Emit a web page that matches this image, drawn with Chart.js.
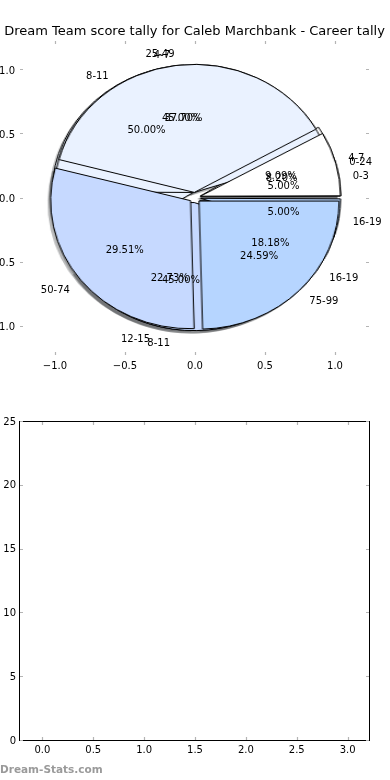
<!DOCTYPE html>
<html>
<head>
<meta charset="utf-8">
<script src="https://cdn.jsdelivr.net/npm/chart.js@4.4.1/dist/chart.umd.min.js"></script>
<style>
html,body{margin:0;padding:0;background:#ffffff;}
#wrap{position:relative;width:390px;height:780px;overflow:hidden;background:#fff;}
#wrap canvas{position:absolute;display:block;}
#axTop{left:0;top:0;}
#axBottom{left:0;top:390px;}
#wm{position:absolute;left:0;top:763px;font:bold 10.5px "DejaVu Sans",sans-serif;color:#9a9a9a;white-space:nowrap;}
</style>
</head>
<body>
<div id="wrap">
<canvas id="sh1" width="320" height="319"></canvas>
<canvas id="sh3" width="320" height="319"></canvas>
<canvas id="sh2" width="320" height="319"></canvas>
<canvas id="p1" width="320" height="319"></canvas>
<canvas id="p3" width="320" height="319"></canvas>
<canvas id="p2" width="320" height="319"></canvas>
<canvas id="axTop" width="390" height="390"></canvas>
<canvas id="axBottom" width="390" height="390"></canvas>
<div id="wm">Dream-Stats.com</div>
</div>
<script>
// ---------------- data ----------------
const titleText = 'Dream Team score tally for Caleb Marchbank - Career tally';

const pie1Labels = ['4-7', '8-11', '12-15', '16-19'];
const pie1Values = [2, 11, 5, 4];

const pie2Labels = ['0-24', '25-49', '50-74', '75-99'];
const pie2Values = [5, 23, 18, 15];

const pie3Labels = ['0-3', '4-7', '8-11', '16-19'];
const pie3Values = [1, 9, 9, 1];

const sliceColors = ['#ffffff', '#eaf2ff', '#c6d9ff', '#b6d5ff'];
const explodeFrac = 0.04;

const pieTicks = [-1.0, -0.5, 0.0, 0.5, 1.0];

const barPositions = [0, 1, 2, 3];
const barValues = [0, 0, 0, 0];
const bottomXTicks = [0.0, 0.5, 1.0, 1.5, 2.0, 2.5, 3.0];
const bottomYTicks = [0, 5, 10, 15, 20, 25];

// ---------------- setup ----------------
Chart.defaults.font.family = '"DejaVu Sans", sans-serif';
Chart.defaults.font.size = 10;
Chart.defaults.color = '#000';

const pieDrawOrder = [
  {canvas: 'p1', shadow: 'sh1', labels: pie1Labels, values: pie1Values},
  {canvas: 'p3', shadow: 'sh3', labels: pie3Labels, values: pie3Values},
  {canvas: 'p2', shadow: 'sh2', labels: pie2Labels, values: pie2Values}
];

const insideTicks = {
  id: 'insideTicks',
  afterDraw(chart, args, opts) {
    const {ctx, chartArea: a, scales: {x, y}} = chart;
    ctx.save();
    if (opts.frame) {
      ctx.strokeStyle = '#000';
      ctx.lineWidth = 1;
      ctx.strokeRect(Math.round(a.left) - 0.5, Math.round(a.top) + 0.5, a.right - a.left, a.bottom - a.top);
    }
    ctx.strokeStyle = opts.color;
    ctx.lineWidth = 1.2;
    const L = opts.len;
    x.ticks.forEach(t => {
      const p = Math.round(x.getPixelForValue(t.value)) + 0.5;
      ctx.beginPath();
      ctx.moveTo(p, a.top + 1); ctx.lineTo(p, a.top + 1 + L);
      ctx.moveTo(p, a.bottom); ctx.lineTo(p, a.bottom - L);
      ctx.stroke();
    });
    y.ticks.forEach(t => {
      const p = Math.round(y.getPixelForValue(t.value)) + 0.5;
      ctx.beginPath();
      ctx.moveTo(a.left, p); ctx.lineTo(a.left + L, p);
      ctx.moveTo(a.right - 1, p); ctx.lineTo(a.right - 1 - L, p);
      ctx.stroke();
    });
    ctx.restore();
  }
};

const titlePlugin = {
  id: 'plainTitle',
  afterDraw(chart, args, opts) {
    const {ctx} = chart;
    ctx.save();
    ctx.font = '13px "DejaVu Sans", sans-serif';
    ctx.fillStyle = '#000';
    ctx.textAlign = 'center';
    ctx.textBaseline = 'alphabetic';
    ctx.fillText(opts.text, opts.x, opts.y);
    ctx.restore();
  }
};

const textDrop = 2; // canvas 'middle' sits slightly higher than the reference text centres

const pieLabelPlugin = {
  id: 'pieLabels',
  afterDraw(chart) {
    const {ctx, scales: {x, y}} = chart;
    ctx.save();
    ctx.font = '10px "DejaVu Sans", sans-serif';
    ctx.fillStyle = '#000';
    ctx.textBaseline = 'middle';
    pieDrawOrder.forEach(pie => {
      const total = pie.values.reduce((s, v) => s + v, 0);
      let start = 0;
      pie.values.forEach((v, i) => {
        const frac = v / total;
        const mid = (start + frac / 2) * 2 * Math.PI;
        start += frac;
        const ex = explodeFrac * Math.cos(mid), ey = explodeFrac * Math.sin(mid);
        const lx = ex + 1.1 * Math.cos(mid), ly = ey + 1.1 * Math.sin(mid);
        ctx.textAlign = lx > 0 ? 'left' : 'right';
        ctx.fillText(pie.labels[i], x.getPixelForValue(lx), y.getPixelForValue(ly) + textDrop);
        const px = ex + 0.6 * Math.cos(mid), py = ey + 0.6 * Math.sin(mid);
        ctx.textAlign = 'center';
        ctx.fillText((frac * 100).toFixed(2) + '%', x.getPixelForValue(px), y.getPixelForValue(py) + textDrop);
      });
    });
    ctx.restore();
  }
};

const fmtSigned = v => v.toFixed(1).replace('-', '\u2212');

// ---------------- top axes (pie frame) ----------------
const axTop = new Chart(document.getElementById('axTop'), {
  type: 'scatter',
  data: {datasets: []},
  options: {
    responsive: false, animation: false, events: [],
    layout: {padding: {top: 40, right: 20, left: 0, bottom: 0}},
    scales: {
      x: {
        type: 'linear', min: -1.25, max: 1.25,
        afterFit(s) { s.height = 35; },
        afterBuildTicks(s) { s.ticks = pieTicks.map(v => ({value: v})); },
        grid: {display: false, drawTicks: false}, border: {display: false},
        ticks: {padding: 5, color: '#000', font: {size: 10}, callback: v => fmtSigned(v), maxRotation: 0, autoSkip: false}
      },
      y: {
        type: 'linear', min: -1.23, max: 1.23,
        afterFit(s) { s.width = 20; },
        afterBuildTicks(s) { s.ticks = pieTicks.map(v => ({value: v})); },
        grid: {display: false, drawTicks: false}, border: {display: false},
        ticks: {padding: 5, labelOffset: 1.5, color: '#000', font: {size: 10}, callback: v => fmtSigned(v), autoSkip: false}
      }
    },
    plugins: {
      legend: {display: false}, tooltip: {enabled: false},
      insideTicks: {frame: false, color: '#b4b4b4', len: 3},
      plainTitle: {text: titleText, x: 194.5, y: 34.5}
    }
  },
  plugins: [insideTicks, titlePlugin, pieLabelPlugin]
});

// ---------------- pies ----------------
const sx = axTop.scales.x, sy = axTop.scales.y;
const cx = sx.getPixelForValue(0), cy = sy.getPixelForValue(0);
const radiusPx = cy - sy.getPixelForValue(1);
const stretch = (sx.getPixelForValue(1) - cx) / radiusPx;
const shadowDx = sx.getPixelForValue(-0.02) - cx;
const shadowDy = sy.getPixelForValue(-0.02) - cy;

// keep exploded wedges at the true radius (Chart.js enlarges narrow offset arcs)
const keepRadius = {
  id: 'keepRadius',
  beforeDatasetsDraw(chart) {
    const meta = chart.getDatasetMeta(0);
    meta.data.forEach(arc => {
      const off = (arc.options.offset || 0) / 4;
      const fix = 1 - Math.sin(Math.min(Math.PI, arc.circumference || 0));
      arc.outerRadius = radiusPx - off * fix;
    });
  }
};

function placeCanvas(el, dx, dy) {
  el.style.left = (cx - el.width / 2 + dx) + 'px';
  el.style.top = (cy - el.height / 2 + dy) + 'px';
  el.style.transform = 'scaleX(' + stretch + ')';
  el.style.transformOrigin = '50% 50%';
}

function makePie(canvasId, labels, values, colors, borderWidth, borderColor) {
  const el = document.getElementById(canvasId);
  const rev = a => a.slice().reverse();
  const chart = new Chart(el, {
    type: 'pie',
    data: {
      labels: rev(labels),
      datasets: [{
        data: rev(values),
        backgroundColor: Array.isArray(colors) ? rev(colors.slice(0, values.length)) : colors,
        borderColor: borderColor,
        borderWidth: borderWidth,
        offset: explodeFrac * radiusPx * 4,
        rotation: 90,
        radius: radiusPx
      }]
    },
    options: {
      responsive: false, animation: false, events: [],
      rotation: 90, radius: radiusPx,
      layout: {padding: 0},
      plugins: {legend: {display: false}, tooltip: {enabled: false}}
    },
    plugins: [keepRadius]
  });
  return {el, chart};
}

pieDrawOrder.forEach(p => {
  const s = makePie(p.shadow, p.labels, p.values, 'rgba(70,73,77,0.38)', 0, 'rgba(0,0,0,0)');
  placeCanvas(s.el, shadowDx, shadowDy);
});
pieDrawOrder.forEach(p => {
  const s = makePie(p.canvas, p.labels, p.values, sliceColors, 1, '#000');
  placeCanvas(s.el, 0, 0);
});

// ---------------- bottom axes ----------------
new Chart(document.getElementById('axBottom'), {
  type: 'bar',
  data: {
    datasets: [{
      data: barPositions.map((p, i) => ({x: p, y: barValues[i]})),
      backgroundColor: '#b6d5ff', borderWidth: 0
    }]
  },
  options: {
    responsive: false, animation: false, events: [],
    layout: {padding: {top: 31, right: 20, left: 0, bottom: 0}},
    scales: {
      x: {
        type: 'linear', min: -0.22, max: 3.22, offset: false,
        afterFit(s) { s.height = 40; },
        afterBuildTicks(s) { s.ticks = bottomXTicks.map(v => ({value: v})); },
        grid: {display: false, drawTicks: false, offset: false}, border: {display: false},
        ticks: {padding: 4, color: '#000', font: {size: 10}, callback: v => v.toFixed(1), maxRotation: 0, autoSkip: false}
      },
      y: {
        type: 'linear', min: 0, max: 25,
        afterFit(s) { s.width = 20; },
        afterBuildTicks(s) { s.ticks = bottomYTicks.map(v => ({value: v})); },
        grid: {display: false, drawTicks: false}, border: {display: false},
        ticks: {padding: 4, labelOffset: 1, color: '#000', font: {size: 10}, callback: v => String(v), autoSkip: false}
      }
    },
    plugins: {
      legend: {display: false}, tooltip: {enabled: false},
      insideTicks: {frame: true, color: '#b4b4b4', len: 3}
    }
  },
  plugins: [insideTicks]
});
</script>
</body>
</html>
